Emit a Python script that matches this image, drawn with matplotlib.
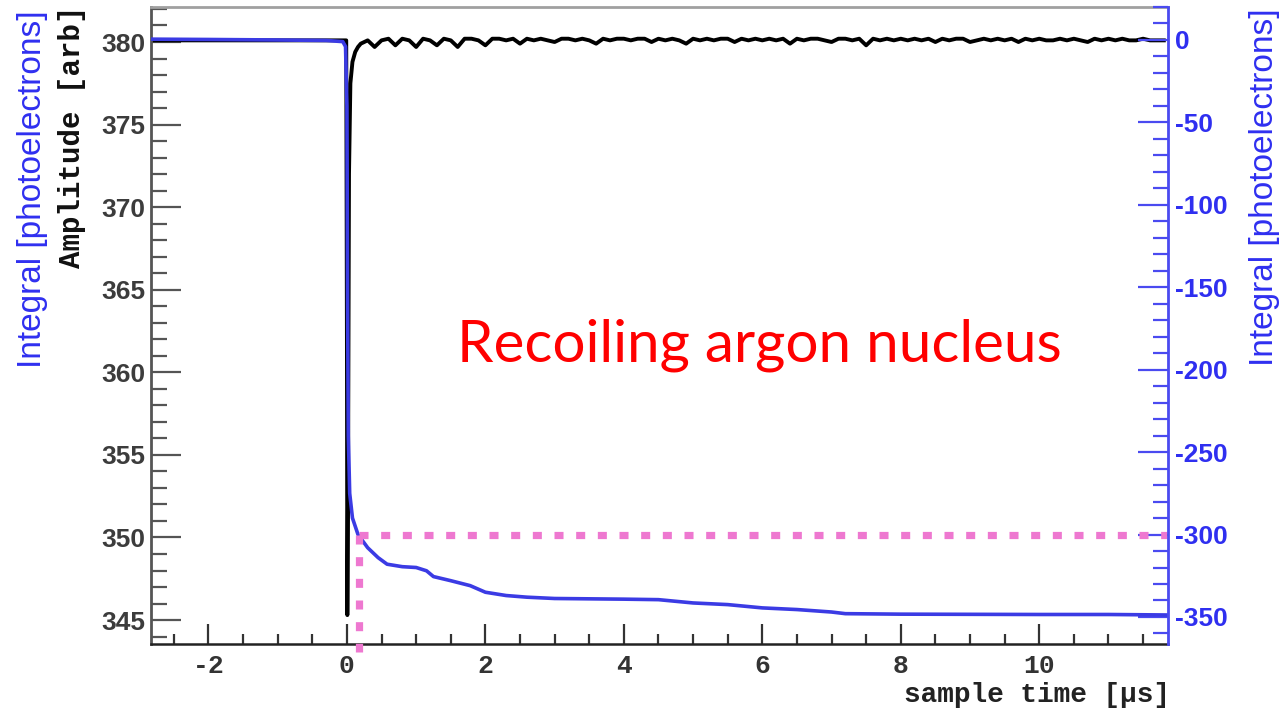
import numpy as np
import matplotlib
matplotlib.use("Agg")
import matplotlib.pyplot as plt
from matplotlib.ticker import MultipleLocator

plt.rcParams["axes.unicode_minus"] = False

# ---- data -------------------------------------------------------------
# Integrated charge (photoelectrons) versus sample time (µs)
integral_t = [-2.85, -2.0, -1.0, -0.3, -0.06, -0.02, 0.0, 0.01, 0.02, 0.04,
              0.08, 0.16, 0.3, 0.45, 0.58, 0.8, 1.0, 1.15, 1.25, 1.5,
              1.78, 2.0, 2.3, 2.6, 3.0, 4.0, 4.5, 5.0, 5.5, 6.0,
              6.5, 7.0, 7.2, 8.0, 9.0, 10.0, 11.0, 11.86]
integral_v = [0.5, 0.3, 0.0, -0.3, -1.0, -4.0, -40.0, -160.0, -240.0, -275.0,
              -290.0, -300.0, -308.0, -314.0, -318.0, -319.5, -320.0, -322.0, -325.5, -328.0,
              -331.0, -335.0, -337.0, -338.0, -338.8, -339.2, -339.5, -341.5, -342.5, -344.5,
              -345.5, -347.0, -348.0, -348.3, -348.4, -348.5, -348.5, -348.8]

# Digitised waveform amplitude (arb): pulse region
pulse_t = [-2.85, -0.01, 0.0, 0.006, 0.015, 0.03, 0.05, 0.08, 0.12, 0.16]
pulse_v = [380.1, 380.1, 362.0, 345.3, 352.0, 372.0, 377.5, 378.8, 379.4, 379.7]

# Waveform amplitude after the pulse, one value per 0.1 µs from 0.2 to 11.8 µs
tail_v = [379.9, 380.1, 379.7, 380.1, 380.2, 379.8, 380.2, 380.1, 379.7, 380.2,
          380.1, 379.8, 380.2, 380.1, 379.7, 380.2, 380.2, 380.1, 379.8, 380.2,
          380.2, 380.1, 380.2, 379.9, 380.2, 380.1, 380.2, 380.1, 380.0, 380.2,
          380.2, 380.1, 380.2, 380.1, 379.9, 380.2, 380.1, 380.2, 380.2, 380.1,
          380.2, 380.2, 380.0, 380.2, 380.1, 380.2, 380.1, 379.9, 380.2, 380.1,
          380.2, 380.1, 380.2, 380.2, 380.0, 380.2, 380.1, 380.2, 380.1, 380.2,
          380.1, 380.2, 379.9, 380.2, 380.1, 380.2, 380.2, 380.1, 380.0, 380.2,
          380.2, 380.1, 380.2, 379.8, 380.2, 380.1, 380.2, 380.1, 380.2, 380.1,
          380.2, 380.1, 380.2, 380.0, 380.2, 380.1, 380.2, 380.2, 380.0, 380.1,
          380.2, 380.1, 380.2, 380.1, 380.2, 380.0, 380.2, 380.1, 380.2, 380.1,
          380.1, 380.2, 380.1, 380.2, 380.1, 380.0, 380.2, 380.1, 380.2, 380.1,
          380.2, 380.1, 380.1, 380.2, 380.1, 380.1, 380.1]
tail_t = np.linspace(0.2, 11.8, len(tail_v))

# Marked integral level and the time it is reached
marker_t = 0.17
marker_level = -300.0

amp_ticks = [345, 350, 355, 360, 365, 370, 375, 380]
int_ticks = [0, -50, -100, -150, -200, -250, -300, -350]
time_ticks = [-2, 0, 2, 4, 6, 8, 10]

# ---- style ------------------------------------------------------------
BLUE_LINE = "#3b3be4"
BLUE_AXIS = "#4a4af0"
BLUE_TEXT = "#2f2ff0"
PINK = "#ee78d0"
PT = 72 / 100  # points per pixel at dpi 100

fig = plt.figure(figsize=(12.8, 7.14), dpi=100)
fig.patch.set_facecolor("white")
ax = fig.add_axes([151 / 1280, 1 - 644 / 714, (1168 - 151) / 1280, (644 - 7) / 714])
ax2 = ax.twinx()

# waveform (left axis)
ax.plot(pulse_t + list(tail_t), pulse_v + tail_v, color="black", lw=2.8,
        solid_joinstyle="round")
ax.set_xlim(-2.83, 11.86)
ax.set_ylim(343.55, 382.12)

# integral (right axis)
ax2.plot(integral_t, integral_v, color=BLUE_LINE, lw=2.6, solid_joinstyle="round")
ax2.set_ylim(-366.4, 20.0)

# dotted guide lines at the marked level
ax2.plot([marker_t, 11.84], [marker_level, marker_level], color=PINK, lw=5.2,
         linestyle=(0, (1.25, 1.75)), dash_capstyle="butt", clip_on=False)
ax2.plot([marker_t, marker_t], [marker_level, -371.5], color=PINK, lw=5.2,
         linestyle=(0, (1.25, 1.75)), dash_capstyle="butt", clip_on=False)

# ---- axes ---------------------------------------------------------------
ax.set_yticks(amp_ticks)
ax.yaxis.set_minor_locator(MultipleLocator(1))
ax.set_xticks(time_ticks)
ax.xaxis.set_minor_locator(MultipleLocator(0.5))
ax.tick_params(axis="y", which="major", direction="in", length=30 * PT, width=1.6,
               color="#555555", pad=4, labelsize=19, labelcolor="#3c3c3c")
ax.tick_params(axis="y", which="minor", direction="in", length=16 * PT, width=1.6,
               color="#555555")
ax.tick_params(axis="x", which="major", direction="in", length=20 * PT, width=1.6,
               color="#333333", pad=7, labelsize=19, labelcolor="#333333")
ax.tick_params(axis="x", which="minor", direction="in", length=10 * PT, width=1.6,
               color="#333333")
for lab in ax.get_yticklabels():
    lab.set_fontfamily("Liberation Sans")
    lab.set_fontweight("bold")
for lab in ax.get_xticklabels():
    lab.set_fontfamily("Liberation Mono")
    lab.set_fontweight("bold")

ax2.set_yticks(int_ticks)
ax2.yaxis.set_minor_locator(MultipleLocator(10))
ax2.tick_params(axis="y", which="major", direction="in", length=30 * PT, width=1.6,
                color=BLUE_AXIS, pad=5, labelsize=19, labelcolor=BLUE_TEXT)
ax2.tick_params(axis="y", which="minor", direction="in", length=15 * PT, width=1.6,
                color=BLUE_AXIS)
for lab in ax2.get_yticklabels():
    lab.set_fontfamily("Liberation Sans")
    lab.set_fontweight("bold")

ax.spines["left"].set_color("#555555")
ax.spines["left"].set_linewidth(2.0)
ax.spines["bottom"].set_color("#222222")
ax.spines["bottom"].set_linewidth(1.8)
ax.spines["top"].set_color("#a0a0a0")
ax.spines["top"].set_linewidth(2.0)
ax.spines["right"].set_visible(False)
for s in ("left", "top", "bottom"):
    ax2.spines[s].set_visible(False)
ax2.spines["right"].set_color(BLUE_AXIS)
ax2.spines["right"].set_linewidth(2.0)

# ---- titles -------------------------------------------------------------
fig.text(72 / 1280, 1 - 5 / 714, "Amplitude [arb]", rotation=90, ha="center",
         va="top", fontsize=21, family="Liberation Mono", fontweight="bold",
         color="#111111")
fig.text(33 / 1280, 1 - 10 / 714, "Integral [photoelectrons]", rotation=90,
         ha="center", va="top", fontsize=24, family="Liberation Sans",
         color=BLUE_TEXT)
fig.text(1265 / 1280, 1 - 8 / 714, "Integral [photoelectrons]", rotation=90,
         ha="center", va="top", fontsize=24, family="Liberation Sans",
         color=BLUE_TEXT)
fig.text(1170 / 1280, 1 - 695 / 714, "sample time [µs]", ha="right", va="center",
         fontsize=20, family="Liberation Mono", fontweight="bold", color="#222222")

fig.text(457 / 1280, 1 - 362 / 714, "Recoiling argon nucleus", ha="left",
         va="baseline", fontsize=42, family="Lato", color="#ff0000")

fig.savefig("out.png", dpi=100, facecolor="white")
